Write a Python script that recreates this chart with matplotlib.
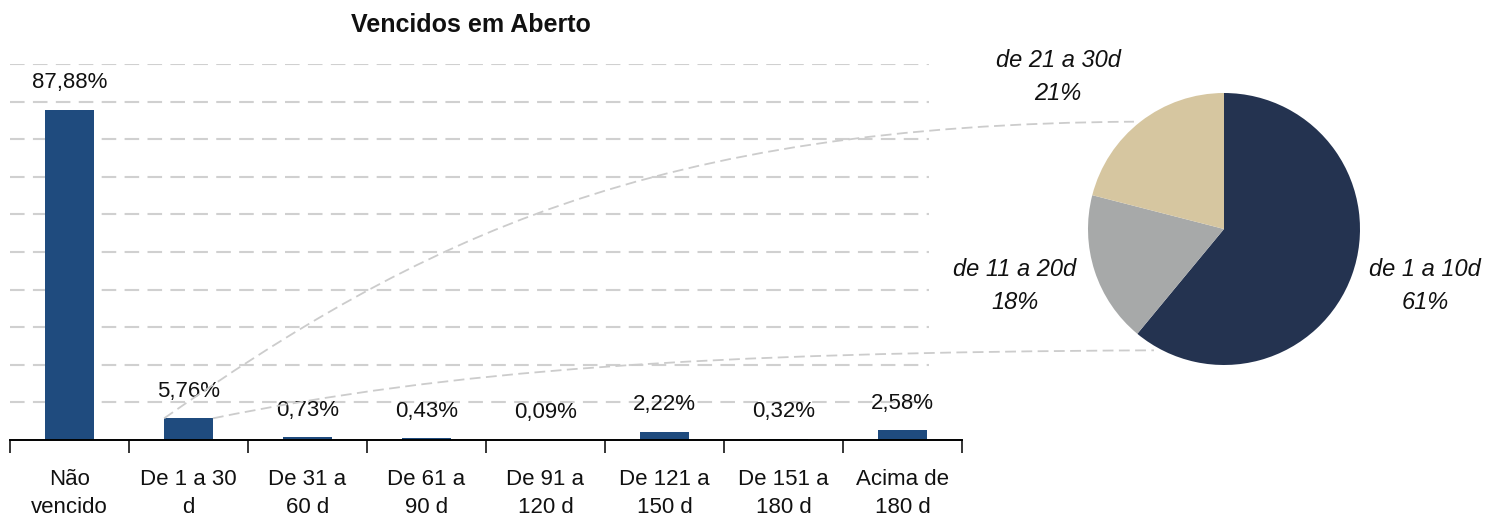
import numpy as np
import matplotlib
matplotlib.use("Agg")
import matplotlib.pyplot as plt
from matplotlib.path import Path
from matplotlib.patches import PathPatch

plt.rcParams["font.family"] = ["Liberation Sans", "DejaVu Sans"]

# ---- data
categories = ["Não\nvencido", "De 1 a 30\nd", "De 31 a\n60 d", "De 61 a\n90 d",
              "De 91 a\n120 d", "De 121 a\n150 d", "De 151 a\n180 d", "Acima de\n180 d"]
values = [87.88, 5.76, 0.73, 0.43, 0.09, 2.22, 0.32, 2.58]
pie_labels = ["de 1 a 10d", "de 11 a 20d", "de 21 a 30d"]
pie_values = [61, 18, 21]

BAR = "#1F4B7E"
PIE_COLORS = ["#243350", "#A7A9A9", "#D6C6A0"]
GRID = "#D0D0D0"
TXT = "#111111"

W, H = 1496, 520
fig = plt.figure(figsize=(W / 100, H / 100), dpi=100)

# ============================================== bar chart ==================
ax = fig.add_axes([10 / W, 80 / H, 952 / W, 376 / H])
x = np.arange(len(values))
bw = 0.41
ax.bar(x, values, width=bw, color=BAR, zorder=3)
ax.set_xlim(-0.5, len(values) - 0.5)
ax.set_ylim(0, 100)
for g in range(10, 101, 10):
    ax.axhline(g, xmin=0, xmax=0.965, color=GRID, lw=1.5, dashes=(7, 4), zorder=1)
for xi, v in zip(x, values):
    ax.annotate(f"{v:.2f}%".replace(".", ","), (xi, v), xytext=(0, 12),
                textcoords="offset points", ha="center", va="bottom",
                fontsize=16, color=TXT, zorder=4)

for s in ("left", "top", "right"):
    ax.spines[s].set_visible(False)
ax.spines["bottom"].set_linewidth(1.4)
ax.spines["bottom"].set_zorder(5)
ax.set_yticks([])
ax.set_xticks(np.arange(-0.5, len(values), 1))
ax.set_xticklabels([])
ax.tick_params(axis="x", which="major", direction="out", length=9, width=1.1)
ax.set_xticks(x, labels=categories, minor=True)
ax.tick_params(axis="x", which="minor", length=0, pad=21, labelsize=16, labelcolor=TXT)
for t in ax.get_xticklabels(minor=True):
    t.set_linespacing(1.45)

fig.text(471 / W, 1 - 25 / H, "Vencidos em Aberto", ha="center", va="center",
         fontsize=18, fontweight="bold", color=TXT)

# ============================================== pie ========================
R = 136
ax2 = fig.add_axes([(1224 - R) / W, (H - 229 - R) / H, 2 * R / W, 2 * R / H])
ax2.pie(pie_values, colors=PIE_COLORS, startangle=90, counterclock=False,
        radius=1, wedgeprops=dict(linewidth=0))
ax2.set_xlim(-1, 1); ax2.set_ylim(-1, 1)
ax2.axis("off")
label_pos = [(1.48, -0.42), (-1.54, -0.42), (-1.22, 1.12)]
for (lx, ly), lab, v in zip(label_pos, pie_labels, pie_values):
    ax2.text(lx, ly, f"{lab}\n{v}%", ha="center", va="center", fontsize=17,
             style="italic", color=TXT, linespacing=1.55)

# ============================================== connectors =================
to_fig = fig.transFigure.inverted()

def connector(p0_disp, p3_disp, f1, f2):
    p0 = np.array(p0_disp); p3 = np.array(p3_disp); d = p3 - p0
    p1 = p0 + d * np.array(f1); p2 = p0 + d * np.array(f2)
    pts = to_fig.transform(np.vstack([p0, p1, p2, p3]))
    path = Path(pts, [Path.MOVETO, Path.CURVE4, Path.CURVE4, Path.CURVE4])
    fig.add_artist(PathPatch(path, transform=fig.transFigure, fill=False,
                             edgecolor="#CCCCCC", lw=1.3, linestyle=(0, (6, 3))))

top_start = ax.transData.transform((1 - bw / 2, values[1]))
bot_start = ax.transData.transform((1 + bw / 2, values[1]))
a1, a2 = np.deg2rad(130), np.deg2rad(-120)
top_end = ax2.transData.transform((1.03 * np.cos(a1), 1.03 * np.sin(a1)))
bot_end = ax2.transData.transform((1.03 * np.cos(a2), 1.03 * np.sin(a2)))
connector(top_start, top_end, (0.263, 0.60), (0.50, 0.99))
connector(bot_start, bot_end, (0.25, 0.706), (0.516, 0.97))

fig.savefig("out.png", dpi=100)
